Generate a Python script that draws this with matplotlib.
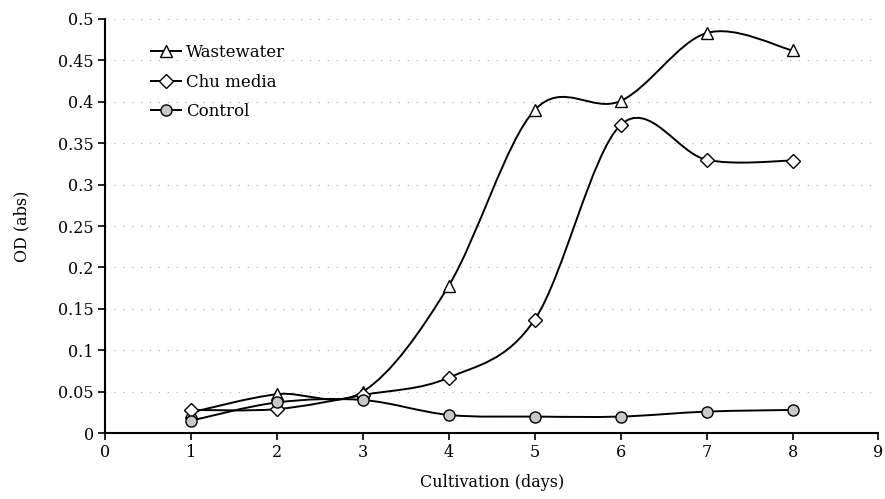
import numpy as np
import matplotlib.pyplot as plt
from matplotlib.path import Path
from matplotlib.patches import PathPatch

days = [1, 2, 3, 4, 5, 6, 7, 8]
wastewater = [0.025, 0.047, 0.050, 0.178, 0.390, 0.401, 0.483, 0.462]
chu_media = [0.028, 0.029, 0.046, 0.067, 0.137, 0.372, 0.330, 0.329]
control = [0.015, 0.037, 0.040, 0.022, 0.020, 0.020, 0.026, 0.028]

plt.rcParams['font.family'] = ['DejaVu Serif']

fig = plt.figure(figsize=(8.85, 4.99), dpi=100)
ax = fig.add_axes([0.1186, 0.132, 0.874, 0.830])


def smooth_path(x, y):
    # Excel-style smoothed line: Catmull-Rom segments as cubic Bezier curves
    x = np.asarray(x, float)
    y = np.asarray(y, float)
    px = np.concatenate([[x[0]], x, [x[-1]]])
    py = np.concatenate([[y[0]], y, [y[-1]]])
    verts = [(x[0], y[0])]
    codes = [Path.MOVETO]
    for i in range(1, len(x)):
        c1 = (px[i] + (px[i + 1] - px[i - 1]) / 6, py[i] + (py[i + 1] - py[i - 1]) / 6)
        c2 = (px[i + 1] - (px[i + 2] - px[i]) / 6, py[i + 1] - (py[i + 2] - py[i]) / 6)
        verts += [c1, c2, (px[i + 1], py[i + 1])]
        codes += [Path.CURVE4] * 3
    return Path(verts, codes)


series = [
    ('Wastewater', wastewater, '^', 'white', 9),
    ('Chu media', chu_media, 'D', 'white', 7.5),
    ('Control', control, 'o', '#c8c8c8', 8),
]
for name, vals, mk, fc, ms in series:
    ax.add_patch(PathPatch(smooth_path(days, vals), fill=False, edgecolor='black', lw=1.4, zorder=3))
    ax.plot(days, vals, linestyle='none', marker=mk, markersize=ms,
            markerfacecolor=fc, markeredgecolor='black', markeredgewidth=1.0, zorder=4)
    ax.plot([], [], color='black', lw=1.4, marker=mk, markersize=ms,
            markerfacecolor=fc, markeredgecolor='black', markeredgewidth=1.0, label=name)

ax.set_xlim(0, 9)
ax.set_ylim(0, 0.5)
ax.set_xticks(range(0, 10))
yt = np.arange(0, 0.51, 0.05)
ax.set_yticks(yt)
ax.set_yticklabels(['0'] + ['%g' % round(v, 2) for v in yt[1:]])

ax.yaxis.grid(True, color='#aaaaaa', linestyle=(0, (1, 7)), linewidth=0.8)
ax.set_axisbelow(True)
for s in ['top', 'right']:
    ax.spines[s].set_visible(False)
ax.spines['left'].set_linewidth(1.5)
ax.spines['bottom'].set_linewidth(1.5)
ax.tick_params(direction='out', length=5, width=1.2, labelsize=11.5, pad=3)

ax.set_xlabel('Cultivation (days)', fontsize=11.5, labelpad=9)
ax.set_ylabel('OD (abs)', fontsize=11.5, labelpad=20)

ax.legend(loc='upper left', bbox_to_anchor=(0.04, 0.975), frameon=False, fontsize=12,
          handlelength=1.8, handletextpad=0.3, labelspacing=0.75)

fig.savefig('out.png', dpi=100)
